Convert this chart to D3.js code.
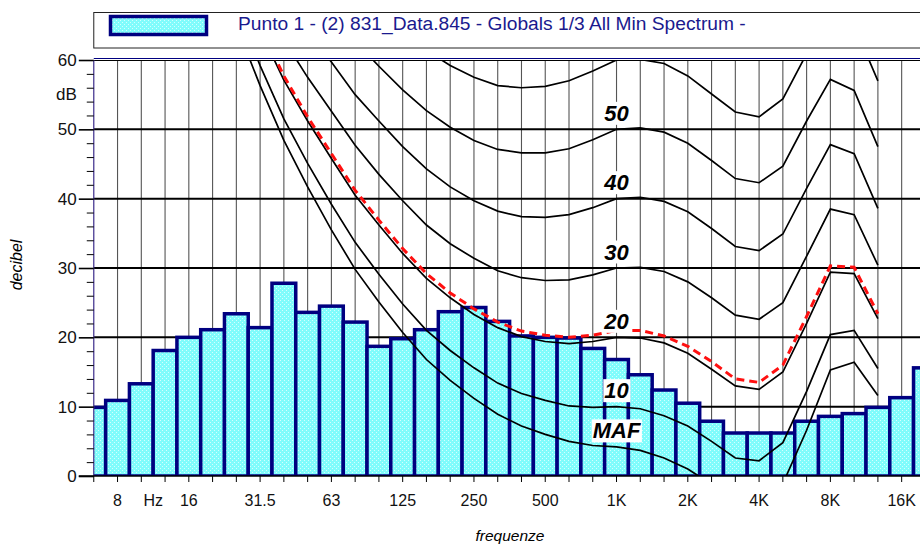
<!DOCTYPE html>
<html>
<head>
<meta charset="utf-8">
<script src="https://cdn.jsdelivr.net/npm/d3@7"></script>
<style>
  body { margin: 0; background: #fff; }
  svg { display: block; font-family: "Liberation Sans", Arial, sans-serif; }
</style>
</head>
<body>
<svg id="canvas"></svg>
<script>
// ---------------- data ----------------
// 1/3 octave bands (Hz)
let bands = [6.3, 8, 10, 12.5, 16, 20, 25, 31.5, 40, 50, 63, 80, 100, 125, 160, 200, 250, 315, 400, 500,
             630, 800, 1000, 1250, 1600, 2000, 2500, 3150, 4000, 5000, 6300, 8000, 10000, 12500, 16000, 20000]

// Punto 1 - min spectrum (dB)
let levels = [9.9, 10.9, 13.3, 18.1, 20.0, 21.1, 23.4, 21.4, 27.8, 23.6, 24.5, 22.2, 18.7, 19.8, 21.1, 23.7, 24.3, 22.3, 20.2, 20.0,
              19.9, 18.4, 16.8, 14.6, 12.4, 10.5, 7.9, 6.2, 6.2, 6.2, 7.9, 8.6, 9.0, 9.9, 11.3, 15.6]

// isophonic curves, 20 Hz .. 12.5 kHz
let curveBands = [20, 25, 31.5, 40, 50, 63, 80, 100, 125, 160, 200, 250, 315, 400, 500, 630, 800, 1000, 1250, 1600,
                  2000, 2500, 3150, 4000, 5000, 6300, 8000, 10000, 12500]

let maf    = [74.3, 65.0, 56.3, 48.4, 41.7, 35.5, 29.8, 25.1, 20.7, 16.8, 13.8, 11.2, 8.9, 7.2, 6.0, 5.0, 4.4, 4.2, 3.7, 2.6, 1.0, -1.2, -3.6, -3.9, -1.1, 6.6, 15.3, 16.4, 11.6]
let phon10 = [76.8, 67.7, 59.2, 51.5, 45.1, 39.2, 33.7, 29.1, 24.8, 21.0, 18.1, 15.6, 13.4, 11.9, 10.9, 10.1, 9.9, 10.0, 9.7, 8.7, 7.2, 5.0, 2.6, 2.2, 4.8, 12.2, 20.4, 21.0, 15.5]
let phon20 = [81.3, 72.5, 64.3, 57.1, 51.2, 45.8, 40.5, 36.2, 32.1, 28.5, 25.7, 23.3, 21.4, 20.1, 19.4, 19.1, 19.4, 20.0, 19.9, 19.2, 17.7, 15.4, 13.0, 12.5, 15.0, 22.0, 29.4, 29.2, 22.7]
let phon30 = [86.0, 77.6, 69.7, 62.9, 57.5, 52.6, 47.7, 43.5, 39.7, 36.2, 33.5, 31.4, 29.6, 28.6, 28.2, 28.3, 29.0, 30.0, 30.1, 29.5, 28.0, 25.7, 23.2, 22.6, 25.0, 31.7, 38.5, 37.7, 30.4]
let phon40 = [91.0, 82.9, 75.4, 69.0, 64.0, 59.7, 55.0, 51.2, 47.5, 44.3, 41.7, 39.7, 38.2, 37.4, 37.3, 37.7, 38.7, 40.0, 40.2, 39.6, 38.1, 35.7, 33.1, 32.5, 34.9, 41.5, 47.8, 46.5, 38.6]
let phon50 = [96.2, 88.5, 81.3, 75.4, 70.9, 67.1, 62.7, 59.1, 55.7, 52.7, 50.3, 48.4, 47.1, 46.6, 46.6, 47.2, 48.5, 50.0, 50.2, 49.6, 48.0, 45.5, 42.9, 42.3, 44.7, 51.2, 57.2, 55.6, 47.5]
let phon60 = [101.7, 94.4, 87.6, 82.1, 78.0, 74.8, 70.6, 67.3, 64.2, 61.4, 59.2, 57.5, 56.3, 56.0, 56.2, 57.0, 58.4, 60.0, 60.1, 59.5, 57.7, 55.1, 52.5, 51.8, 54.4, 60.9, 66.7, 65.0, 57.0]
// loudness contour of the spectrum (red dashed)
let spectrumPhon = [81.8, 73.0, 64.8, 57.7, 51.8, 46.5, 41.2, 36.9, 32.8, 29.2, 26.4, 24.1, 22.2, 20.9, 20.3, 20.0, 20.3, 21.0, 21.0, 20.2, 18.7, 16.5, 14.0, 13.5, 16.0, 23.0, 30.3, 30.1, 23.4]

let curveNames = ['MAF', '10', '20', '30', '40', '50']

let tickBands  = [8, 16, 31.5, 63, 125, 250, 500, 1000, 2000, 4000, 8000, 16000]
let tickLabels = ['8', '16', '31.5', '63', '125', '250', '500', '1K', '2K', '4K', '8K', '16K']
let yTicks = [0, 10, 20, 30, 40, 50, 60]

let legendText = 'Punto 1 - (2) 831_Data.845 - Globals 1/3 All Min Spectrum -'

// ---------------- layout ----------------
let width = 920
let height = 544
let plotTop = 60
let plotBottom = 476
let plotRight = 932

let canvas = d3.select('#canvas')
canvas.attr('width', width).attr('height', height)

let xScale, yScale, xc, plotLeft

let generateScales = () => {
    xScale = d3.scaleBand()
        .domain(bands)
        .range([81.9, 937.3])
        .padding(0)
    xc = (f) => xScale(f) + xScale.bandwidth() / 2
    plotLeft = xc(bands[0])

    yScale = d3.scaleLinear()
        .domain([0, 60])
        .range([plotBottom, plotTop])
}

let drawDefs = () => {
    let defs = canvas.append('defs')
    let pat = defs.append('pattern')
        .attr('id', 'dots')
        .attr('width', 4).attr('height', 4)
        .attr('patternUnits', 'userSpaceOnUse')
    pat.append('rect').attr('width', 4).attr('height', 4).attr('fill', '#80fcfc')
    pat.append('rect').attr('x', 0).attr('y', 0).attr('width', 1).attr('height', 1).attr('fill', '#d4ffff')
    pat.append('rect').attr('x', 2).attr('y', 2).attr('width', 1).attr('height', 1).attr('fill', '#d4ffff')

    defs.append('clipPath').attr('id', 'plot')
        .append('rect')
        .attr('x', plotLeft).attr('y', plotTop)
        .attr('width', plotRight - plotLeft).attr('height', plotBottom - plotTop)
}

let drawLegend = () => {
    canvas.append('rect')
        .attr('x', plotLeft).attr('y', 12.5)
        .attr('width', plotRight - plotLeft).attr('height', 35.5)
        .attr('fill', 'none').attr('stroke', '#222').attr('stroke-width', 1)

    canvas.append('rect')
        .attr('x', 110.5).attr('y', 16.5)
        .attr('width', 96).attr('height', 18)
        .attr('fill', 'url(#dots)').attr('stroke', '#000080').attr('stroke-width', 3.5)

    canvas.append('text')
        .attr('x', 238).attr('y', 30)
        .attr('font-size', 19.2)
        .attr('fill', '#1a1a8e')
        .text(legendText)
}

let drawGrid = () => {
    let g = canvas.append('g').attr('clip-path', 'url(#plot)')

    g.selectAll('line.v')
        .data(bands.slice(1))
        .enter()
        .append('line')
        .attr('class', 'v')
        .attr('x1', (d) => xc(d)).attr('x2', (d) => xc(d))
        .attr('y1', plotTop).attr('y2', plotBottom)
        .attr('stroke', '#555').attr('stroke-width', 1.1)

    g.selectAll('line.h')
        .data(yTicks.slice(1))
        .enter()
        .append('line')
        .attr('class', 'h')
        .attr('x1', plotLeft).attr('x2', plotRight)
        .attr('y1', (d) => yScale(d)).attr('y2', (d) => yScale(d))
        .attr('stroke', '#000').attr('stroke-width', 2)
}

let drawBars = () => {
    canvas.append('g')
        .attr('clip-path', 'url(#plot)')
        .selectAll('rect')
        .data(levels)
        .enter()
        .append('rect')
        .attr('x', (d, i) => xScale(bands[i]))
        .attr('y', (d) => yScale(d))
        .attr('width', xScale.bandwidth())
        .attr('height', (d) => plotBottom - yScale(d))
        .attr('fill', 'url(#dots)')
        .attr('stroke', '#000080')
        .attr('stroke-width', 3.5)
}

let drawCurves = () => {
    let line = d3.line()
        .x((d, i) => xc(curveBands[i]))
        .y((d) => yScale(d))

    let g = canvas.append('g').attr('clip-path', 'url(#plot)')
    let curves = [maf, phon10, phon20, phon30, phon40, phon50, phon60]

    g.selectAll('path.iso')
        .data(curves)
        .enter()
        .append('path')
        .attr('class', 'iso')
        .attr('d', line)
        .attr('fill', 'none')
        .attr('stroke', '#000')
        .attr('stroke-width', 1.7)

    g.append('path')
        .attr('d', line(spectrumPhon))
        .attr('fill', 'none')
        .attr('stroke', '#ff1010')
        .attr('stroke-width', 3)
        .attr('stroke-dasharray', '8,5')

    // labels sit over the 1 kHz point of each curve
    let k = curveBands.indexOf(1000)
    curves.slice(0, 6).forEach((c, i) => {
        let lg = canvas.append('g')
        let t = lg.append('text')
            .attr('x', xc(1000))
            .attr('y', yScale(c[k]) - 16)
            .attr('text-anchor', 'middle')
            .attr('dominant-baseline', 'central')
            .attr('font-size', 22)
            .attr('font-weight', 'bold')
            .attr('font-style', 'italic')
            .text(curveNames[i])
        let bb = t.node().getBBox()
        lg.insert('rect', 'text')
            .attr('x', bb.x - 1).attr('y', bb.y + 1)
            .attr('width', bb.width + 2).attr('height', bb.height - 2)
            .attr('fill', '#fff')
    })
}

let drawAxes = () => {
    // top and left frame
    canvas.append('line')
        .attr('x1', plotLeft).attr('x2', plotRight)
        .attr('y1', plotTop - 1.5).attr('y2', plotTop - 1.5)
        .attr('stroke', '#000080').attr('stroke-width', 1)
    canvas.append('line')
        .attr('x1', plotLeft).attr('x2', plotLeft)
        .attr('y1', plotTop).attr('y2', plotBottom)
        .attr('stroke', '#3a2a8a').attr('stroke-width', 1.2)

    let yAxis = d3.axisLeft(yScale)
        .tickValues(yTicks)
        .tickSize(15)
        .tickPadding(2)

    let yMinor = d3.axisLeft(yScale)
        .tickValues(d3.range(0, 60, 2).filter((v) => v % 10 != 0))
        .tickSize(7)
        .tickFormat('')

    let gy = canvas.append('g')
        .attr('transform', 'translate(' + plotLeft + ', 0)')
        .call(yAxis)
    gy.select('.domain').remove()
    gy.selectAll('line').attr('stroke-width', 1.6)
    gy.selectAll('text').attr('font-size', 17).attr('fill', '#111').attr('font-family', null)

    let gm = canvas.append('g')
        .attr('transform', 'translate(' + plotLeft + ', 0)')
        .call(yMinor)
    gm.select('.domain').remove()

    canvas.append('text')
        .attr('x', plotLeft - 17).attr('y', yScale(55))
        .attr('text-anchor', 'end')
        .attr('dominant-baseline', 'central')
        .attr('font-size', 17).attr('fill', '#111')
        .text('dB')

    let xAxis = d3.axisBottom(xScale)
        .tickValues(bands.slice(0, 35))
        .tickSize(6)
        .tickPadding(13)
        .tickFormat((d) => {
            let i = tickBands.indexOf(d)
            return i < 0 ? '' : tickLabels[i]
        })

    let gx = canvas.append('g')
        .attr('transform', 'translate(0, ' + plotBottom + ')')
        .call(xAxis)
    gx.select('.domain').remove()
    gx.selectAll('text').attr('font-size', 16).attr('fill', '#111').attr('font-family', null)

    // unit label sits on the 10 / 12.5 Hz band edge
    canvas.append('text')
        .attr('x', xScale(12.5)).attr('y', plotBottom + 19)
        .attr('dy', '0.71em')
        .attr('text-anchor', 'middle')
        .attr('font-size', 16).attr('fill', '#111')
        .text('Hz')

    canvas.append('line')
        .attr('x1', plotLeft - 15).attr('x2', plotRight)
        .attr('y1', plotBottom).attr('y2', plotBottom)
        .attr('stroke', '#000').attr('stroke-width', 1.6)

    canvas.append('text')
        .attr('transform', 'translate(22, 265) rotate(-90)')
        .attr('text-anchor', 'middle')
        .attr('font-size', 16)
        .attr('font-style', 'italic')
        .text('decibel')

    canvas.append('text')
        .attr('x', 510).attr('y', 541)
        .attr('text-anchor', 'middle')
        .attr('font-size', 15.5)
        .attr('font-style', 'italic')
        .text('frequenze')
}

generateScales()
drawDefs()
drawLegend()
drawGrid()
drawBars()
drawCurves()
drawAxes()
</script>
</body>
</html>
